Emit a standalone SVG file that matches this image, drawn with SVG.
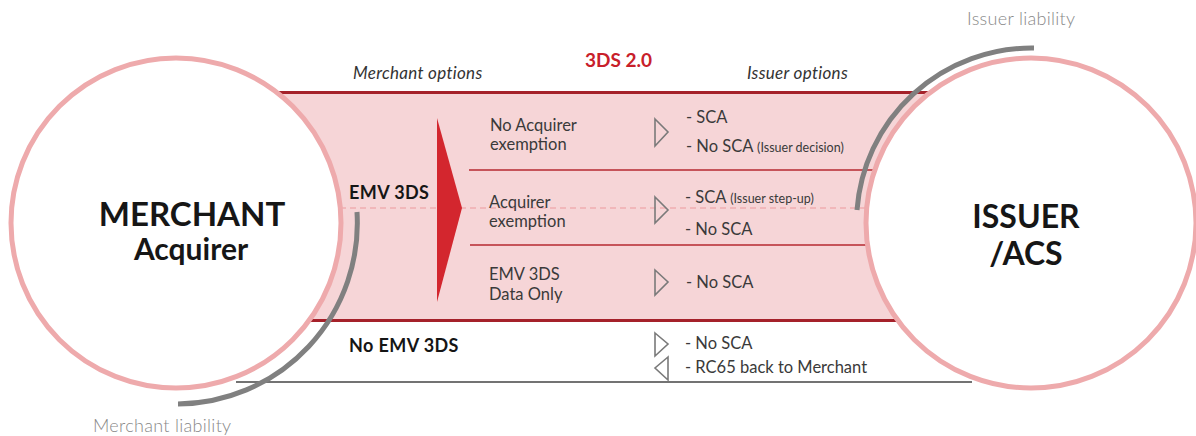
<svg xmlns="http://www.w3.org/2000/svg" width="1196" height="436" viewBox="0 0 1196 436">
<style>
text{font-family:Lato,"Open Sans","Liberation Sans",sans-serif}
.t{font-size:16.5px;fill:#3a3a3a}
.s{font-size:12.5px;fill:#3a3a3a}
.b{font-size:18px;font-weight:bold;fill:#151515;letter-spacing:0.4px}
.cap{font-size:18px;fill:#888;font-weight:300;letter-spacing:0.3px}
.it{font-size:17px;font-style:italic;fill:#333;letter-spacing:0.3px}
.big{font-weight:bold;fill:#161616;text-anchor:middle}
.circ{fill:#fff;stroke:#eeaaac;stroke-width:5}
.band{stroke:#a5212a;stroke-width:3}
.sep{stroke:#b62830;stroke-width:1.5}
.tri{fill:none;stroke:#7a7a7a;stroke-width:1.6;stroke-linejoin:miter}
.arc{fill:none;stroke:#808080;stroke-width:5}
</style>
<g id="band">
<rect x="260" y="92" width="690" height="229" fill="#f6d5d7"/>
</g>
<g id="connectors">
<line class="band" x1="260" y1="92.5" x2="950" y2="92.5"/>
<line class="band" x1="260" y1="320.5" x2="950" y2="320.5"/>
<line class="sep" x1="469" y1="170" x2="900" y2="170"/>
<line class="sep" x1="470" y1="245" x2="900" y2="245"/>
<line x1="330" y1="208" x2="880" y2="208" stroke="#ec9a9d" stroke-width="1.2" stroke-dasharray="6,4"/>
<line x1="236" y1="382" x2="972" y2="382" stroke="#444" stroke-width="1.6"/>
<polygon points="437,118 462,208 437,302" fill="#d3262e"/>
<polygon class="tri" points="655,119 668,132 655,146"/>
<polygon class="tri" points="655,197 668,210 655,223"/>
<polygon class="tri" points="655,270 668,282 655,295"/>
<polygon class="tri" points="655,333 668,344 655,356"/>
<polygon class="tri" points="668,357 655,368 668,380"/>
</g>
<g id="merchant">
<circle class="circ" cx="176" cy="223" r="165"/>
<text class="big" x="192" y="226" font-size="33">MERCHANT</text>
<text class="big" x="191" y="260" font-size="30">Acquirer</text>
</g>
<g id="issuer">
<circle class="circ" cx="1031" cy="223" r="165"/>
<text class="big" x="1026" y="228" font-size="32">ISSUER</text>
<text class="big" x="1026" y="265" font-size="32">/ACS</text>
</g>
<g id="liability-arcs">
<path class="arc" d="M357,212 A181,181 0 0 1 178,404"/>
<path class="arc" d="M1034,48 A175,175 0 0 0 857,210"/>
</g>
<g id="labels">
<text class="cap" x="967" y="25">Issuer liability</text>
<text class="cap" x="93" y="432">Merchant liability</text>
<text x="585" y="67" font-size="19" font-weight="bold" fill="#c8202a">3DS 2.0</text>
<text class="it" x="353" y="79">Merchant options</text>
<text class="it" x="747" y="79">Issuer options</text>
<text class="b" x="349" y="199">EMV 3DS</text>
<text class="b" x="349" y="352">No EMV 3DS</text>
</g>
<g id="merchant-options">
<text class="t" x="490" y="131">No Acquirer</text>
<text class="t" x="490" y="150">exemption</text>
<text class="t" x="489" y="208">Acquirer</text>
<text class="t" x="489" y="227">exemption</text>
<text class="t" x="489" y="280">EMV 3DS</text>
<text class="t" x="489" y="300">Data Only</text>
</g>
<g id="issuer-options">
<text class="t" x="686" y="123">- SCA</text>
<text class="t" x="686" y="152">- No SCA <tspan class="s">(Issuer decision)</tspan></text>
<text class="t" x="685" y="203">- SCA <tspan class="s">(Issuer step-up)</tspan></text>
<text class="t" x="685" y="235">- No SCA</text>
<text class="t" x="686" y="288">- No SCA</text>
<text class="t" x="685" y="349">- No SCA</text>
<text class="t" x="685" y="373">- RC65 back to Merchant</text>
</g>
</svg>
